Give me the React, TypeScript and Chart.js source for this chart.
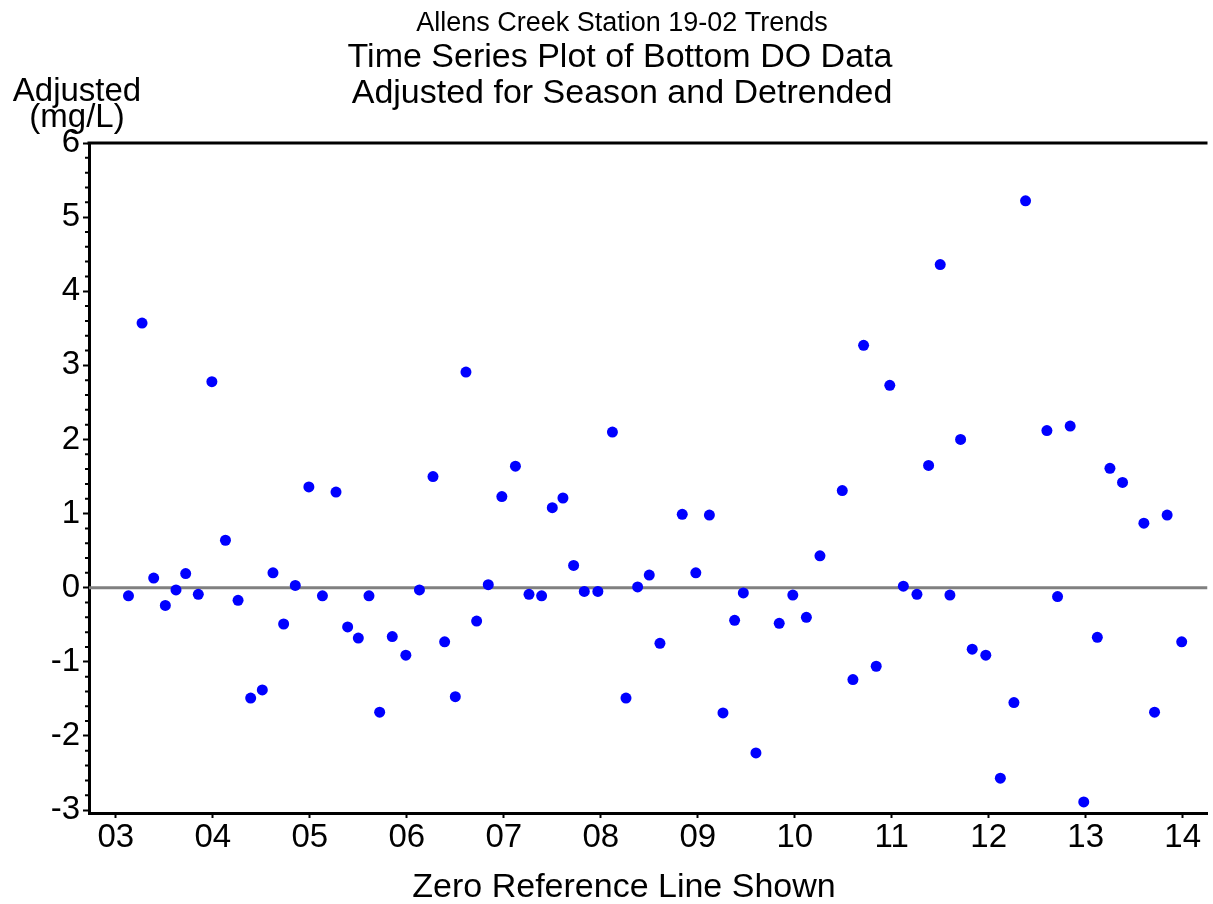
import React, { useEffect, useRef } from "react";
import { Chart, registerables } from "chart.js";

Chart.register(...registerables);

// Decimal years (2-digit, 3 = 2003) of each observation
const obsYears = [
  3.13, 3.27, 3.39, 3.51, 3.62, 3.72, 3.85, 3.99, 4.13, 4.26,
  4.39, 4.51, 4.62, 4.73, 4.85, 4.99, 5.13, 5.27, 5.39, 5.5,
  5.61, 5.72, 5.85, 5.99, 6.13, 6.27, 6.39, 6.5, 6.61, 6.72,
  6.84, 6.98, 7.12, 7.26, 7.39, 7.5, 7.61, 7.72, 7.83, 7.97,
  8.12, 8.26, 8.38, 8.5, 8.61, 8.84, 8.98, 9.12, 9.26, 9.38,
  9.47, 9.6, 9.84, 9.98, 10.12, 10.26, 10.49, 10.6, 10.71, 10.84,
  10.98, 11.12, 11.26, 11.38, 11.5, 11.6, 11.71, 11.83, 11.97, 12.12,
  12.26, 12.38, 12.6, 12.71, 12.84, 12.98, 13.12, 13.25, 13.38, 13.6,
  13.71, 13.84, 13.99,
];

// Adjusted bottom DO (mg/L), season-adjusted and detrended
const adjustedDO = [
  -0.11, 3.57, 0.13, -0.24, -0.03, 0.19, -0.09, 2.78, 0.64, -0.17,
  -1.49, -1.38, 0.2, -0.49, 0.03, 1.36, -0.11, 1.29, -0.53, -0.68,
  -0.11, -1.68, -0.66, -0.91, -0.03, 1.5, -0.73, -1.47, 2.91, -0.45,
  0.04, 1.23, 1.64, -0.09, -0.11, 1.08, 1.21, 0.3, -0.05, -0.05,
  2.1, -1.49, 0.01, 0.17, -0.75, 0.99, 0.2, 0.98, -1.69, -0.44,
  -0.07, -2.23, -0.48, -0.1, -0.4, 0.43, 1.31, -1.24, 3.27, -1.06,
  2.73, 0.02, -0.09, 1.65, 4.36, -0.1, 2.0, -0.83, -0.91, -2.57,
  -1.55, 5.22, 2.12, -0.12, 2.18, -2.89, -0.67, 1.61, 1.42, 0.87,
  -1.68, 0.98, -0.73,
];

const xTickValues = [3, 4, 5, 6, 7, 8, 9, 10, 11, 12, 13, 14];
const yTickValues = [-3, -2, -1, 0, 1, 2, 3, 4, 5, 6];
const xMin = 2.723;
const xMax = 14.256;
const yMin = -3.04;
const yMax = 6;
const referenceValue = 0;

const titleLines = [
  "Allens Creek Station 19-02 Trends",
  "Time Series Plot of Bottom DO Data",
  "Adjusted for Season and Detrended",
];
const yAxisTitleLines = ["Adjusted", "(mg/L)"];
const xAxisTitle = "Zero Reference Line Shown";

const FONT = '"Liberation Sans", Arial, Helvetica, sans-serif';

const decorPlugin = {
  id: "decor",
  afterDraw(chart: any) {
    const { ctx, chartArea, scales } = chart;
    ctx.save();
    // top frame line
    ctx.strokeStyle = "#000";
    ctx.lineWidth = 3;
    ctx.beginPath();
    ctx.moveTo(chartArea.left - 1.5, chartArea.top);
    ctx.lineTo(chartArea.right, chartArea.top);
    ctx.stroke();

    // minor ticks on y axis (every 0.2)
    const ys = scales.y;
    ctx.lineWidth = 2;
    ctx.beginPath();
    for (let i = Math.ceil(yMin * 5); i <= yMax * 5; i++) {
      if (i % 5 === 0) continue;
      const py = ys.getPixelForValue(i / 5);
      ctx.moveTo(chartArea.left - 1, py);
      ctx.lineTo(chartArea.left - 4, py);
    }
    ctx.stroke();

    // texts
    ctx.fillStyle = "#000";
    ctx.textAlign = "center";
    ctx.textBaseline = "alphabetic";
    const cx = 620;
    ctx.font = `27px ${FONT}`;
    ctx.fillText(titleLines[0], cx + 2, 31);
    ctx.font = `34px ${FONT}`;
    ctx.fillText(titleLines[1], cx, 67);
    ctx.fillText(titleLines[2], cx + 2, 103);

    ctx.font = `33px ${FONT}`;
    ctx.fillText(yAxisTitleLines[0], 77, 101);
    ctx.fillText(yAxisTitleLines[1], 77, 127);

    ctx.font = `34px ${FONT}`;
    ctx.fillText(xAxisTitle, 624, 897);
    ctx.restore();
  },
};

export default function App() {
  const canvasRef = useRef<HTMLCanvasElement | null>(null);

  useEffect(() => {
    const canvas = canvasRef.current;
    if (!canvas) return;
    const points = obsYears.map((x, i) => ({ x, y: adjustedDO[i] }));
    const chart = new Chart(canvas, {
      type: "scatter",
      data: {
        datasets: [
          {
            type: "scatter",
            data: points,
            backgroundColor: "#0000ff",
            borderWidth: 0,
            pointRadius: 5.5,
            pointHoverRadius: 5.5,
            order: 1,
          },
          {
            type: "line",
            data: [
              { x: xMin, y: referenceValue },
              { x: xMax, y: referenceValue },
            ],
            borderColor: "#808080",
            borderWidth: 3,
            pointRadius: 0,
            fill: false,
            order: 2,
          } as any,
        ],
      },
      options: {
        responsive: false,
        devicePixelRatio: 1,
        animation: false,
        layout: { padding: { top: 143, left: 0, right: 0, bottom: 0 } },
        plugins: {
          legend: { display: false },
          tooltip: { enabled: false },
          title: { display: false },
        },
        scales: {
          x: {
            type: "linear",
            min: xMin,
            max: xMax,
            afterBuildTicks: (s: any) => {
              s.ticks = xTickValues.map((v) => ({ value: v }));
            },
            afterFit: (s: any) => {
              s.height = 904 - 813;
            },
            ticks: {
              callback: (v: any) => String(v).padStart(2, "0"),
              font: { size: 33, family: FONT },
              color: "#000",
              padding: 0,
              maxRotation: 0,
              autoSkip: false,
            },
            grid: {
              drawOnChartArea: false,
              drawTicks: true,
              tickLength: 5,
              tickWidth: 2,
              tickColor: "#000",
            },
            border: { display: true, color: "#000", width: 3 },
          },
          y: {
            type: "linear",
            min: yMin,
            max: yMax,
            afterBuildTicks: (s: any) => {
              s.ticks = yTickValues.map((v) => ({ value: v }));
            },
            afterFit: (s: any) => {
              s.width = 89;
            },
            ticks: {
              callback: (v: any) => String(v),
              font: { size: 33, family: FONT },
              color: "#000",
              padding: 3,
              autoSkip: false,
            },
            grid: {
              drawOnChartArea: false,
              drawTicks: true,
              tickLength: 6,
              tickWidth: 2,
              tickColor: "#000",
            },
            border: { display: true, color: "#000", width: 3 },
          },
        },
      },
      plugins: [decorPlugin],
    } as any);
    return () => chart.destroy();
  }, []);

  return (
    <div
      style={{
        position: "fixed",
        left: 0,
        top: 0,
        width: 1213,
        height: 904,
        background: "#fff",
      }}
    >
      <canvas ref={canvasRef} width={1213} height={904} />
    </div>
  );
}
